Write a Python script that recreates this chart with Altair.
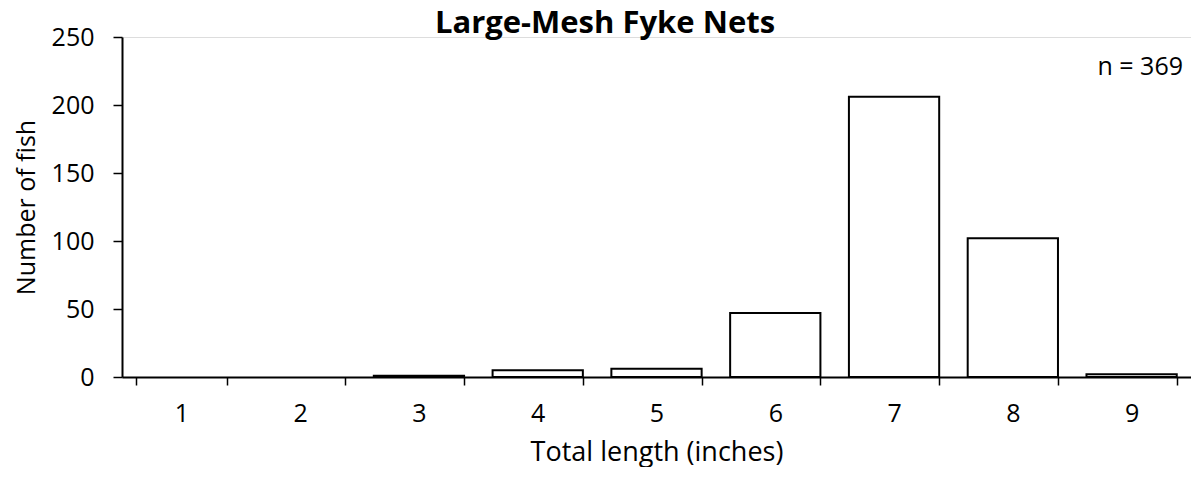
import altair as alt
import pandas as pd

lengths = ["1", "2", "3", "4", "5", "6", "7", "8", "9"]
counts = [0, 0, 1, 5, 6, 47, 206, 102, 2]
y_ticks = [0, 50, 100, 150, 200, 250]
title_text = "Large-Mesh Fyke Nets"
note_text = "n = 369"

df = pd.DataFrame({"length": lengths, "count": counts})
FONT = "Open Sans"
FS = 25

bars = alt.Chart(df).transform_filter("datum.count > 0").mark_bar(
    fill="white", stroke="black", strokeWidth=2
).encode(
    x=alt.X(
        "length:N",
        sort=lengths,
        title="Total length (inches)",
        scale=alt.Scale(domain=lengths, paddingInner=0.24, paddingOuter=0.12),
        axis=alt.Axis(
            labelAngle=0,
            tickBand="extent",
            grid=False,
            domainColor="black",
            domainWidth=2,
            tickColor="black",
            tickWidth=1.5,
            tickSize=8,
            labelFont=FONT,
            labelFontSize=FS,
            labelColor="black",
            labelPadding=16,
            titleFont=FONT,
            titleFontSize=27,
            titleFontWeight="normal",
            titleColor="black",
            titlePadding=13,
        ),
    ),
    y=alt.Y(
        "count:Q",
        title="Number of fish",
        scale=alt.Scale(domain=[0, 250], nice=False),
        axis=alt.Axis(
            values=y_ticks,
            grid=False,
            domainColor="black",
            domainWidth=2,
            tickColor="black",
            tickWidth=1.5,
            tickSize=9,
            labelFont=FONT,
            labelFontSize=FS,
            labelColor="black",
            labelPadding=19,
            titleFont=FONT,
            titleFontSize=FS,
            titleFontWeight="normal",
            titleColor="black",
            titlePadding=12,
        ),
    ),
)

note = alt.Chart(pd.DataFrame({"t": [note_text]})).mark_text(
    align="right", baseline="middle", font=FONT, fontSize=25, color="black"
).encode(
    text="t:N",
    x=alt.value(1061),
    y=alt.value(30),
)

title = alt.Chart(pd.DataFrame({"t": [title_text]})).mark_text(
    align="center", baseline="alphabetic", font=FONT, fontSize=31,
    fontWeight="bold", color="black"
).encode(
    text="t:N",
    x=alt.value(483),
    y=alt.value(-4),
)

chart = (
    alt.layer(bars, note, title)
    .properties(
        width=1069,
        height=340,
        autosize=alt.AutoSizeParams(type="none"),
        padding={"left": 114, "top": 29, "right": 0, "bottom": 90},
    )
    .configure_view(strokeOpacity=0, strokeWidth=0)
    .configure_axis(grid=False)
    .configure(background="white")
)

chart.save("out.html", embed_options={"renderer": "svg", "actions": False})
